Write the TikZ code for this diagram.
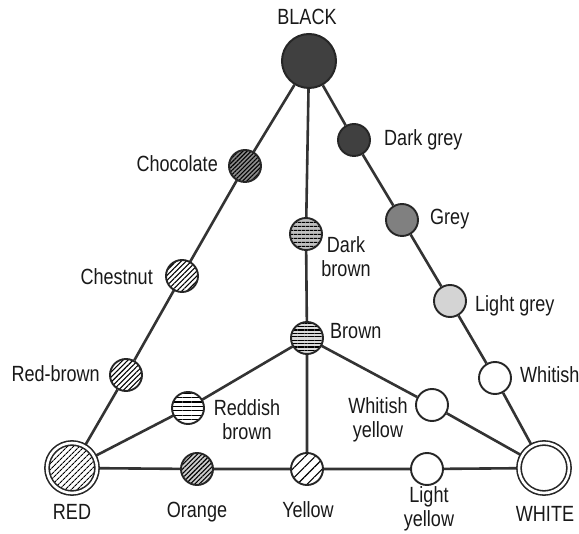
\documentclass[tikz,border=0pt]{standalone}
\usepackage{fontspec}
\setmainfont{Liberation Sans}[FakeStretch=0.82]
\usetikzlibrary{patterns.meta,backgrounds}
\begin{document}
\begin{tikzpicture}[x=1pt,y=-1pt,
  lbl/.style={font=\fontsize{22}{24}\selectfont, inner sep=0pt, text=black!90},
  dot/.style={circle, draw=black!85, line width=1.9pt, minimum size=32pt, inner sep=0pt, preaction={fill=white}},
  big/.style={circle, draw=black!85, line width=2pt, minimum size=54pt, inner sep=0pt},
  dbl/.style={circle, draw=black!85, line width=1.6pt, double=white, double distance=2.6pt, minimum size=50pt, inner sep=0pt, preaction={fill=white}},
  edge/.style={draw=black!80, line width=2.6pt},
  diag/.style={pattern={Lines[angle=45,distance=#1,line width=1.1pt]}},
  horiz/.style={pattern={Lines[angle=0,distance=#1,line width=1.2pt]}}
]
\useasboundingbox (0,0) rectangle (579,534);
% vertices
\node[big, fill=black!75] (black) at (309,61) {};
\node[dbl, diag=4pt] (red) at (72,468) {};
\node[dbl, fill=white] (white) at (544,468) {};
% black--white side
\node[dot, fill=black!75] (dgrey) at (354,140) {};
\node[dot, fill=black!50] (grey) at (402,220) {};
\node[dot, fill=black!17] (lgrey) at (450,301) {};
\node[dot, fill=white] (whitish) at (495,378) {};
% black--red side
\node[dot, preaction={fill=black!45}, diag=3pt] (choc) at (245,166) {};
\node[dot, diag=3.6pt] (chest) at (182,276) {};
\node[dot, diag=3.6pt] (rbrown) at (126,375) {};
% centre line
\node[dot, preaction={fill=black!25}, horiz=4pt] (dbrown) at (306,234) {};
\node[dot, preaction={fill=black!15}, horiz=3.4pt] (brown) at (307,338) {};
\node[dot, horiz=4.4pt] (reddish) at (188,408) {};
\node[dot, fill=white] (wyellow) at (432,405) {};
% red--white side
\node[dot, preaction={fill=black!20}, diag=3.2pt] (orange) at (197,469) {};
\node[dot, diag=7pt] (yellow) at (307,469) {};
\node[dot, fill=white] (lyellow) at (427,469) {};
% connectors
\begin{scope}[on background layer]
\draw[edge] (black) -- (choc) -- (chest) -- (rbrown) -- (red);
\draw[edge] (black) -- (dgrey) -- (grey) -- (lgrey) -- (whitish) -- (white);
\draw[edge] (black) -- (dbrown) -- (brown) -- (yellow);
\draw[edge] (brown) -- (reddish) -- (red);
\draw[edge] (brown) -- (wyellow) -- (white);
\draw[edge] (red) -- (orange) -- (yellow) -- (lyellow) -- (white);
\end{scope}
% labels
\node[lbl, anchor=base] (tblack) at (307,25) {BLACK};
\node[lbl, anchor=base west] (tdgrey) at (384,146) {Dark grey};
\node[lbl, anchor=base west] (tgrey) at (430,225) {Grey};
\node[lbl, anchor=base west] (tlgrey) at (475,312) {Light grey};
\node[lbl, anchor=base west] (twhitish) at (520,383) {Whitish};
\node[lbl, anchor=base] (twhite) at (545,522) {WHITE};
\node[lbl, anchor=base east] (tchoc) at (218,172) {Chocolate};
\node[lbl, anchor=base east] (tchest) at (153,285) {Chestnut};
\node[lbl, anchor=base east] (trbrown) at (100,382) {Red-brown};
\node[lbl, anchor=base] (tred) at (72,520) {RED};
\node[lbl, anchor=base] (torange) at (197,518) {Orange};
\node[lbl, anchor=base] (tyellow) at (308,518) {Yellow};
\node[lbl, anchor=base west] (tbrown) at (330,339) {Brown};
\node[lbl, anchor=base, align=center] (tdbrown) at (346,277) {Dark\\brown};
\node[lbl, anchor=base, align=center] (treddish) at (247,440) {Reddish\\brown};
\node[lbl, anchor=base, align=center] (twyellow) at (378,438) {Whitish\\yellow};
\node[lbl, anchor=base, align=center] (tlyellow) at (429,527) {Light\\yellow};
\end{tikzpicture}
\end{document}
